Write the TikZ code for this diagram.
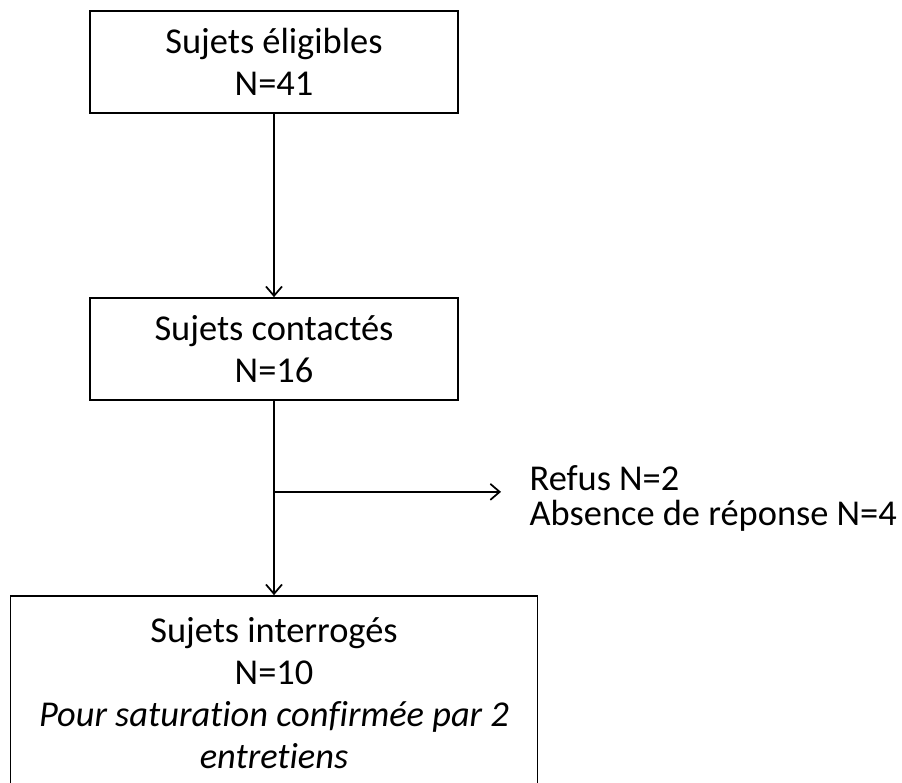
\documentclass[tikz,border=0pt]{standalone}
\usepackage{fontspec}
\setmainfont[Ligatures=NoCommon]{Carlito}
\usetikzlibrary{positioning,arrows.meta}
\tikzset{
>={Straight Barb[length=7pt,width=12pt]}, % open arrow heads
every node/.style={font=\fontsize{27.3}{31.5}\selectfont,align=center},
on grid
}

\begin{document}
\begin{tikzpicture}[line width=1.3pt, box/.style={rectangle, draw, minimum width=276pt, minimum height=76.5pt}]
   \clip (0,0) rectangle (676.5pt,-586.5pt);
   \node[box] (elig) at (205.5pt,-46.5pt) {Sujets éligibles \\ N=41};
   \node[box] (cont) [below=215.25pt of elig] {Sujets contactés \\ N=16};
   \node[box, minimum width=395.25pt, minimum height=145.5pt] (interr) [below=258pt of cont]
      {Sujets interrogés \\ N=10 \\ \textit{Pour saturation confirmée par 2} \\ \textit{entretiens}};
   \coordinate[below=68.25pt of cont.south] (split);
   \coordinate[right=170.25pt of split] (excl);
   \node[anchor=west, align=left, font=\fontsize{27.3}{26.25}\selectfont] (refus)
      at ([xshift=17.5pt,yshift=-5pt]excl) {Refus N=2 \\ Absence de réponse N=4};
   \path[->]
    (elig)  edge (cont)
    (cont)  edge (interr)
    (split) edge (excl);
\end{tikzpicture}
\end{document}
